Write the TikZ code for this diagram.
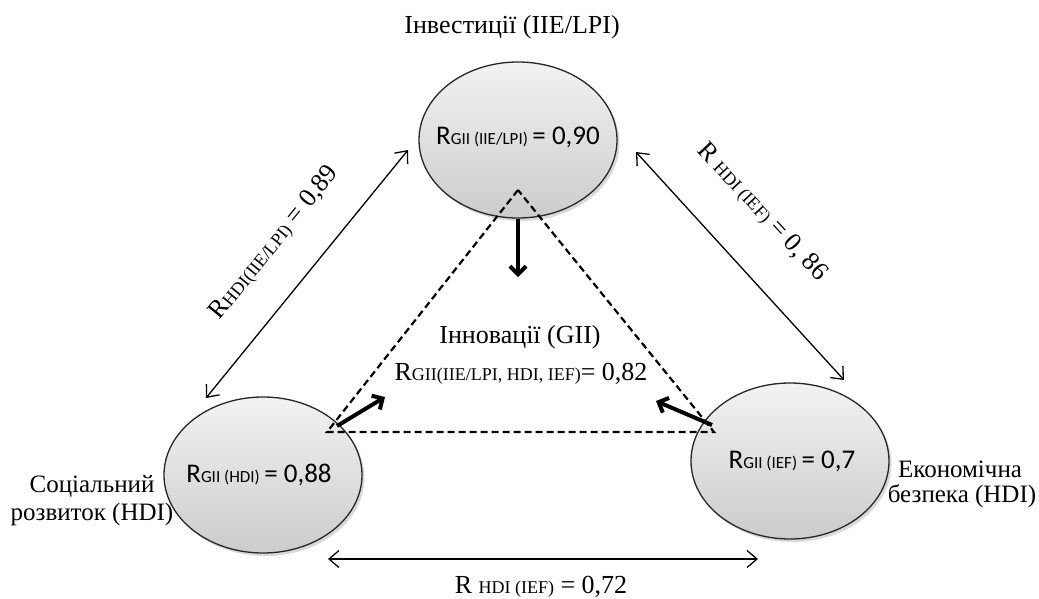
\documentclass[tikz,border=0pt]{standalone}
\usepackage{fontspec}
\setmainfont{Liberation Serif}
\newfontfamily\calfont{Carlito}
\usetikzlibrary{shapes.geometric,arrows.meta,shadows}
\begin{document}
\begin{tikzpicture}[x=1pt,y=-1pt,
  ell/.style={ellipse, draw=black!85, line width=1.3pt, minimum width=198pt, minimum height=156pt, inner sep=0pt,
    top color=gray!10, bottom color=gray!40,
    drop shadow={shadow xshift=2.5pt,shadow yshift=-3pt,opacity=0.3}},
  thinarr/.style={line width=1.3pt, {Straight Barb[length=10pt,width=17pt]}-{Straight Barb[length=10pt,width=17pt]}},
  thickarr/.style={line width=4pt, -{Straight Barb[length=8pt,width=16pt]}},
  dashtri/.style={line width=2.2pt, dash pattern=on 7pt off 4pt},
  lbl/.style={font=\fontsize{26}{30}\selectfont, inner sep=0pt},
  sidelbl/.style={font=\fontsize{25}{29}\selectfont, inner sep=0pt},
  ctxt/.style={font=\calfont\fontsize{27}{30}\selectfont, inner sep=0pt},
]
\useasboundingbox (0,0) rectangle (1039,598);

% ellipses
\node[ell] (inv) at (518,140) {};
\node[ell] (soc) at (263,475) {};
\node[ell] (eco) at (790,461) {};

% ellipse texts
\node[ctxt, anchor=base] (tinv) at (518,144) {R{\fontsize{17}{19}\selectfont GII (IIE/LPI)}\,= 0,90};
\node[ctxt, anchor=base] (tsoc) at (259,482) {R{\fontsize{17}{19}\selectfont GII (HDI)}\,= 0,88};
\node[ctxt, anchor=base] (teco) at (792,468) {R{\fontsize{17}{19}\selectfont GII (IEF)}\,= 0,7};

% dashed triangle
\coordinate (ta) at (518,190);
\coordinate (tb) at (327,432);
\coordinate (tc) at (714,432);
\draw[dashtri] (ta) -- (tb) -- (tc) -- cycle;

% thick arrows
\coordinate (dn) at (518,277);
\coordinate (ls) at (337,426);
\coordinate (le) at (385,397);
\coordinate (rs) at (712,425);
\coordinate (re) at (656,401);
\draw[thickarr] (inv.south) -- (dn);
\draw[thickarr] (ls) -- (le);
\draw[thickarr] (rs) -- (re);

% thin double arrows
\coordinate (a1) at (408,150);
\coordinate (a2) at (206,398);
\coordinate (b1) at (636,152);
\coordinate (b2) at (844,380);
\coordinate (c1) at (328,559);
\coordinate (c2) at (758,559);
\draw[thinarr] (a1) -- (a2);
\draw[thinarr] (b1) -- (b2);
\draw[thinarr] (c1) -- (c2);

% labels
\node[lbl, anchor=base] (title) at (512,33) {Інвестиції (IIE/LPI)};
\node[sidelbl, anchor=base] (soc1) at (92,492) {Соціальний};
\node[sidelbl, anchor=base] (soc2) at (92,520) {розвиток (HDI)};
\node[sidelbl, anchor=base] (eco1) at (960,477) {Економічна};
\node[sidelbl, anchor=base] (eco2) at (962,502) {безпека (HDI)};
\node[lbl, anchor=base] (gii) at (520,343) {Інновації (GII)};
\node[lbl, anchor=base] (rgii) at (521,380) {R{\fontsize{18}{20}\selectfont GII(IIE/LPI, HDI, IEF)}= 0,82};
\node[lbl, anchor=base] (rbot) at (541,593) {R {\fontsize{18}{20}\selectfont HDI (IEF)} = 0,72};
\node[lbl, rotate=51] (rleft) at (274,243) {R{\fontsize{18}{20}\selectfont HDI(IIE/LPI)} = 0,89};
\node[lbl, rotate=-47] (rright) at (762,212) {R {\fontsize{18}{20}\selectfont HDI (IEF)} = 0, 86};
\end{tikzpicture}
\end{document}
